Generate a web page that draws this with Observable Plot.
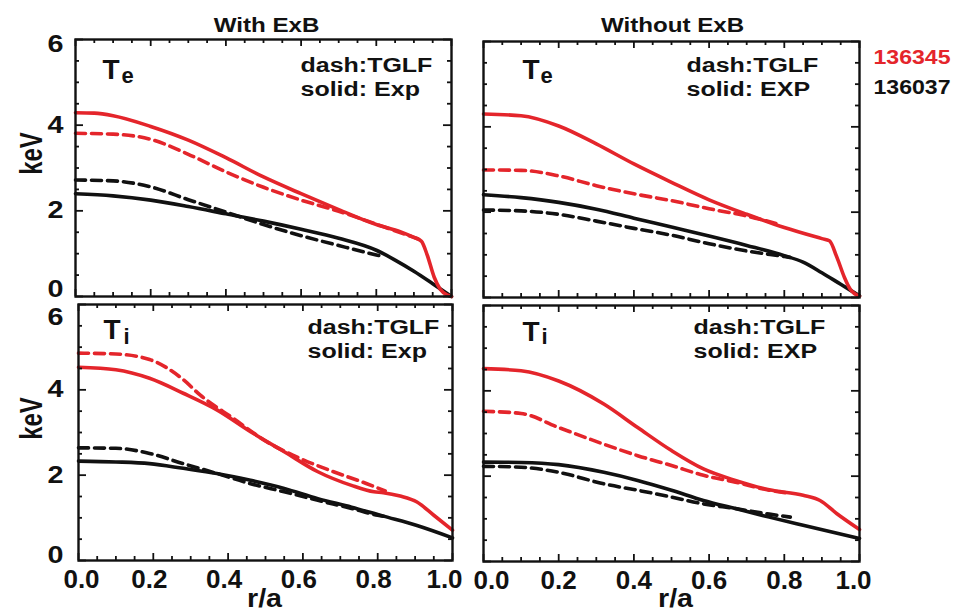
<!DOCTYPE html>
<html>
<head>
<meta charset="utf-8">
<script src="https://cdn.jsdelivr.net/npm/d3@7"></script>
<script src="https://cdn.jsdelivr.net/npm/@observablehq/plot@0.6"></script>
<style>
  body { margin: 0; background: #fff; }
  #wrap { position: relative; width: 953px; height: 611px; overflow: hidden; background: #fff; }
  #wrap svg { position: absolute; left: 0; top: 0; }
</style>
</head>
<body>
<div id="wrap"></div>
<script>
// ---------- data (r/a, keV) ----------
const xMajor = [0, 0.2, 0.4, 0.6, 0.8, 1.0];
const xMinor = [0.05, 0.1, 0.15, 0.25, 0.3, 0.35, 0.45, 0.5, 0.55, 0.65, 0.7, 0.75, 0.85, 0.9, 0.95];
const yMajor = [0, 2, 4, 6];
const yMinor = [0.5, 1, 1.5, 2.5, 3, 3.5, 4.5, 5, 5.5];
const xTickLabelsMid = [0.2, 0.4, 0.6, 0.8];
const yTickLabelsMid = [2, 4];

const columnTitles = ["With ExB", "Without ExB"];
const shots = ["136345", "136037"];

// Te, with ExB
const teExbRedExp = [[0,4.29],[0.05,4.28],[0.1,4.22],[0.2,3.97],[0.3,3.65],[0.4,3.24],[0.5,2.79],[0.6,2.40],[0.7,2.03],[0.8,1.68],[0.865,1.51],[0.9,1.38],[0.92,1.29],[0.935,0.98],[0.954,0.45],[0.97,0.17],[0.99,0.03],[1.0,0.0]];
const teExbRedTglf = [[0,3.81],[0.1,3.79],[0.2,3.67],[0.3,3.32],[0.4,2.91],[0.5,2.55],[0.6,2.25],[0.7,1.99],[0.8,1.69],[0.9,1.38],[0.91,1.35]];
const teExbBlackExp = [[0,2.40],[0.1,2.35],[0.2,2.25],[0.3,2.10],[0.4,1.93],[0.5,1.76],[0.6,1.57],[0.7,1.36],[0.8,1.08],[0.85,0.85],[0.9,0.59],[0.95,0.30],[1.0,0.0]];
const teExbBlackTglf = [[0,2.72],[0.1,2.70],[0.2,2.56],[0.3,2.26],[0.4,1.97],[0.5,1.68],[0.6,1.42],[0.7,1.19],[0.8,0.97],[0.82,0.93]];

// Te, without ExB
const teNoRedExp = [[0,4.30],[0.1,4.26],[0.2,4.02],[0.3,3.60],[0.4,3.13],[0.5,2.70],[0.6,2.29],[0.7,1.95],[0.8,1.64],[0.9,1.38],[0.92,1.33],[0.94,0.94],[0.96,0.47],[0.975,0.2],[1.0,0.03]];
const teNoRedTglf = [[0,2.99],[0.1,2.98],[0.2,2.85],[0.3,2.62],[0.4,2.43],[0.5,2.27],[0.6,2.08],[0.7,1.91],[0.78,1.73]];
const teNoBlackExp = [[0,2.41],[0.1,2.34],[0.2,2.23],[0.3,2.07],[0.4,1.86],[0.5,1.65],[0.6,1.44],[0.7,1.22],[0.8,0.98],[0.85,0.83],[0.9,0.58],[0.95,0.31],[1.0,0.04]];
const teNoBlackTglf = [[0,2.05],[0.1,2.03],[0.2,1.95],[0.3,1.79],[0.4,1.62],[0.5,1.46],[0.6,1.26],[0.7,1.09],[0.8,0.96],[0.815,0.94]];

// Ti, with ExB
const tiExbRedExp = [[0,4.53],[0.1,4.47],[0.19,4.27],[0.28,3.92],[0.37,3.53],[0.46,3.02],[0.55,2.55],[0.64,2.08],[0.73,1.76],[0.79,1.61],[0.815,1.59],[0.86,1.51],[0.905,1.37],[0.95,1.06],[1.0,0.71]];
const tiExbRedTglf = [[0,4.86],[0.1,4.84],[0.19,4.71],[0.28,4.24],[0.325,3.88],[0.414,3.33],[0.504,2.78],[0.593,2.39],[0.682,2.08],[0.771,1.80],[0.82,1.63]];
const tiExbBlackExp = [[0,2.33],[0.1,2.31],[0.19,2.27],[0.28,2.16],[0.37,2.04],[0.46,1.88],[0.55,1.69],[0.64,1.45],[0.73,1.25],[0.815,1.04],[0.905,0.82],[1.0,0.53]];
const tiExbBlackTglf = [[0,2.64],[0.1,2.63],[0.19,2.51],[0.28,2.27],[0.37,2.04],[0.46,1.80],[0.55,1.61],[0.64,1.41],[0.73,1.22],[0.8,1.06],[0.82,1.03]];

// Ti, without ExB
const tiNoRedExp = [[0,4.52],[0.1,4.47],[0.2,4.23],[0.32,3.69],[0.41,3.14],[0.5,2.60],[0.585,2.17],[0.67,1.90],[0.76,1.68],[0.85,1.55],[0.895,1.43],[0.94,1.12],[1.0,0.75]];
const tiNoRedTglf = [[0,3.52],[0.1,3.47],[0.2,3.14],[0.32,2.75],[0.41,2.48],[0.5,2.25],[0.585,2.02],[0.67,1.86],[0.76,1.67],[0.816,1.60]];
const tiNoBlackExp = [[0,2.33],[0.1,2.32],[0.2,2.27],[0.32,2.09],[0.41,1.90],[0.5,1.67],[0.585,1.43],[0.67,1.24],[0.76,1.04],[0.85,0.85],[1.0,0.54]];
const tiNoBlackTglf = [[0,2.23],[0.1,2.21],[0.2,2.09],[0.32,1.82],[0.41,1.67],[0.5,1.51],[0.585,1.35],[0.67,1.24],[0.76,1.11],[0.816,1.04]];

// ---------- styling ----------
const RED = "#e4252b";
const INK = "#111111";
const FONT = "'Liberation Sans', Arial, Helvetica, sans-serif";
const W = 953, H = 611;

function panel(cfg) {
  const [L, R, T, B] = cfg.frame;
  const fw = R - L, fh = B - T;
  const marks = [];
  const series = [
    {data: cfg.blackExp, color: INK, dash: false},
    {data: cfg.redExp, color: RED, dash: false},
    {data: cfg.blackTglf, color: INK, dash: true},
    {data: cfg.redTglf, color: RED, dash: true}
  ];
  for (const s of series) {
    marks.push(Plot.line(s.data, {
      x: d => d[0], y: d => d[1], stroke: s.color, strokeWidth: 3.6,
      strokeDasharray: s.dash ? "10,6" : undefined, curve: "monotone-x"
    }));
  }
  // inward ticks on all four sides
  const tk = {stroke: INK, strokeWidth: 1.8};
  marks.push(Plot.ruleX(xMajor, {...tk, x: d => d, y1: 6, y2: 0, insetTop: fh - 7}));
  marks.push(Plot.ruleX(xMajor, {...tk, x: d => d, y1: 6, y2: 0, insetBottom: fh - 7}));
  marks.push(Plot.ruleX(xMinor, {...tk, x: d => d, y1: 6, y2: 0, insetTop: fh - 4}));
  marks.push(Plot.ruleX(xMinor, {...tk, x: d => d, y1: 6, y2: 0, insetBottom: fh - 4}));
  marks.push(Plot.ruleY(yMajor, {...tk, y: d => d, x1: 0, x2: 1, insetRight: fw - 8}));
  marks.push(Plot.ruleY(yMajor, {...tk, y: d => d, x1: 0, x2: 1, insetLeft: fw - 8}));
  marks.push(Plot.ruleY(yMinor, {...tk, y: d => d, x1: 0, x2: 1, insetRight: fw - 4}));
  marks.push(Plot.ruleY(yMinor, {...tk, y: d => d, x1: 0, x2: 1, insetLeft: fw - 4}));
  marks.push(Plot.frame({stroke: INK, strokeWidth: 2.4}));

  const txt = {frameAnchor: "top-left", textAnchor: "start", lineAnchor: "bottom", fill: INK, fontWeight: "bold", text: d => d};
  // panel labels
  marks.push(Plot.text(["T"], {...txt, fontSize: 28, dx: cfg.tPos[0], dy: cfg.tPos[1]}));
  marks.push(Plot.text([cfg.sub], {...txt, fontSize: 22, dx: cfg.subPos[0], dy: cfg.subPos[1]}));
  marks.push(Plot.text(["dash:TGLF"], {...txt, fontSize: 20, dx: cfg.notePos[0], dy: cfg.notePos[1]}));
  marks.push(Plot.text([cfg.solid], {...txt, fontSize: 20, dx: cfg.notePos[0], dy: cfg.notePos[1] + 24}));

  if (cfg.yLabels) {
    const ya = {anchor: "left", tickSize: 0, tickPadding: cfg.yPad, fontSize: 23, fontWeight: "bold", label: null};
    marks.push(Plot.axisY(yTickLabelsMid, ya));
    marks.push(Plot.axisY([6], {...ya, dy: cfg.yEnd[0]}));
    marks.push(Plot.axisY([0], {...ya, dy: cfg.yEnd[1]}));
    marks.push(Plot.text(["keV"], {frameAnchor: "top-left", textAnchor: "middle", lineAnchor: "middle", rotate: -90, fontSize: 24, fontWeight: "bold", fill: INK, text: d => d, dx: cfg.kevPos[0], dy: cfg.kevPos[1]}));
  }
  if (cfg.xLabels) {
    const xa = {anchor: "bottom", tickSize: 0, tickPadding: 9, fontSize: 26, fontWeight: "bold", label: null, tickFormat: d3.format(".1f")};
    marks.push(Plot.axisX(xTickLabelsMid, {...xa, dx: cfg.xShift[1]}));
    marks.push(Plot.axisX([0], {...xa, dx: cfg.xShift[0]}));
    marks.push(Plot.axisX([1], {...xa, dx: cfg.xShift[2]}));
    marks.push(Plot.text(["r/a"], {frameAnchor: "top-left", textAnchor: "middle", lineAnchor: "bottom", fontSize: 26, fontWeight: "bold", fill: INK, text: d => d, dx: cfg.raPos[0], dy: cfg.raPos[1]}));
  }
  if (cfg.extra) marks.push(...cfg.extra);

  return Plot.plot({
    width: W, height: H,
    marginLeft: L, marginRight: W - R, marginTop: T, marginBottom: H - B,
    x: {domain: [0, 1], axis: null},
    y: {domain: [0, 6], axis: null},
    style: {fontFamily: FONT, fontWeight: "bold", background: "transparent", overflow: "visible", color: INK},
    marks
  });
}

const headTxt = {frameAnchor: "top-left", lineAnchor: "bottom", fontWeight: "bold", text: d => d};
const headerMarks = [
  Plot.text([columnTitles[0]], {...headTxt, textAnchor: "middle", fontSize: 21, fill: INK, dx: 191, dy: -8}),
  Plot.text([columnTitles[1]], {...headTxt, textAnchor: "middle", fontSize: 21, fill: INK, dx: 597, dy: -8}),
  Plot.text([shots[0]], {...headTxt, textAnchor: "start", fontSize: 21, fill: RED, dx: 798, dy: 24}),
  Plot.text([shots[1]], {...headTxt, textAnchor: "start", fontSize: 21, fill: INK, dx: 798, dy: 54})
];

const charts = [
  panel({frame: [75, 451, 39, 296], redExp: teExbRedExp, redTglf: teExbRedTglf, blackExp: teExbBlackExp, blackTglf: teExbBlackTglf,
    sub: "e", solid: "solid: Exp", tPos: [27, 39], subPos: [46, 43], notePos: [225, 32],
    yLabels: true, yPad: 12, yEnd: [5, -7], kevPos: [-44, 114], xLabels: false, extra: headerMarks}),
  panel({frame: [483, 859, 41, 297], redExp: teNoRedExp, redTglf: teNoRedTglf, blackExp: teNoBlackExp, blackTglf: teNoBlackTglf,
    sub: "e", solid: "solid: EXP", tPos: [39, 37], subPos: [57, 41], notePos: [203, 30],
    yLabels: false, xLabels: false}),
  panel({frame: [78, 452, 304, 560], redExp: tiExbRedExp, redTglf: tiExbRedTglf, blackExp: tiExbBlackExp, blackTglf: tiExbBlackTglf,
    sub: "i", solid: "solid: Exp", tPos: [25, 34], subPos: [45, 39], notePos: [229, 29],
    yLabels: true, yPad: 15, yEnd: [13, -5], kevPos: [-47, 114], xLabels: true, xShift: [3, -4, -8], raPos: [186, 302]}),
  panel({frame: [483, 859, 305, 561], redExp: tiNoRedExp, redTglf: tiNoRedTglf, blackExp: tiNoBlackExp, blackTglf: tiNoBlackTglf,
    sub: "i", solid: "solid: EXP", tPos: [39, 35], subPos: [58, 38], notePos: [210, 28],
    yLabels: false, xLabels: true, xShift: [8, 0, -6], raPos: [192, 301]})
];

const wrap = document.getElementById("wrap");
const stretchByText = new Map([
  ["dash:TGLF", 1.25], ["solid: Exp", 1.25], ["solid: EXP", 1.25],
  ["With ExB", 1.15], ["Without ExB", 1.15], ["136345", 1.1], ["136037", 1.1], ["r/a", 1.1]
]);
for (const c of charts) {
  wrap.appendChild(c);
  c.querySelectorAll("text").forEach(el => {
    const t = el.textContent;
    const tr = el.getAttribute("transform") || "";
    const g = el.closest("g[aria-label]");
    const aria = g ? g.getAttribute("aria-label") : "";
    if (t === "keV") { el.setAttribute("transform", tr + " scale(1,1.3)"); return; }
    let s = stretchByText.get(t);
    if (s == null && aria && aria.indexOf("y-axis") >= 0) s = 1.25;
    if (s != null) el.setAttribute("transform", tr + ` scale(${s},1)`);
  });
}
</script>
</body>
</html>
